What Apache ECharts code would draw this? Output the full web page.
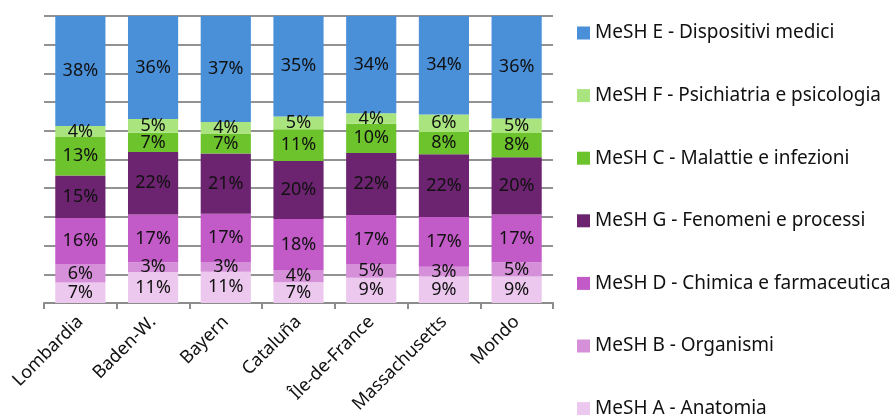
<!DOCTYPE html>
<html>
<head>
<meta charset="utf-8">
<script src="https://cdn.jsdelivr.net/npm/echarts@6/dist/echarts.min.js"></script>
<style>html,body{margin:0;padding:0;background:#fff}#c{width:890px;height:416px}</style>
</head>
<body>
<div id="c"></div>
<script>
const categories = ['Lombardia', 'Baden-W.', 'Bayern', 'Cataluña', 'Île-de-France', 'Massachusetts', 'Mondo'];
const meshA = [7.1, 10.8, 10.9, 7.2, 8.8, 9.2, 9.2];
const meshB = [6.3, 3.4, 3.4, 4.3, 4.6, 3.4, 5.0];
const meshD = [16.2, 16.6, 16.8, 17.8, 17.3, 17.4, 16.6];
const meshG = [14.8, 21.8, 21.0, 20.2, 21.6, 21.8, 20.0];
const meshC = [13.4, 6.7, 7.0, 11.0, 10.2, 7.8, 8.4];
const meshF = [3.9, 4.8, 4.0, 4.5, 3.6, 6.1, 5.1];
const meshE = [38.3, 35.9, 36.9, 35.0, 33.9, 34.3, 35.7];
const yTicks = [0, 10, 20, 30, 40, 50, 60, 70, 80, 90, 100];

const seriesDefs = [
  { name: 'MeSH A - Anatomia', data: meshA, color: '#ECC8EE' },
  { name: 'MeSH B - Organismi', data: meshB, color: '#D690D9' },
  { name: 'MeSH D - Chimica e farmaceutica', data: meshD, color: '#C25AC8' },
  { name: 'MeSH G - Fenomeni e processi', data: meshG, color: '#6C2370' },
  { name: 'MeSH C - Malattie e infezioni', data: meshC, color: '#6DC32C' },
  { name: 'MeSH F - Psichiatria e psicologia', data: meshF, color: '#A9E47E' },
  { name: 'MeSH E - Dispositivi medici', data: meshE, color: '#4A90D9' }
];

const FONT = 'Noto Sans';
const chart = echarts.init(document.getElementById('c'));
chart.setOption({
  animation: false,
  textStyle: { fontFamily: FONT },
  grid: { left: 44, right: 337, top: 16, bottom: 113, containLabel: false },
  legend: {
    orient: 'vertical',
    left: 577,
    top: 23,
    padding: 0,
    height: 600,
    itemWidth: 13,
    itemHeight: 13,
    itemGap: 42.6,
    icon: 'rect',
    data: seriesDefs.map(s => s.name).reverse(),
    textStyle: { fontFamily: FONT, fontSize: 19, color: '#111', lineHeight: 20 }
  },
  xAxis: {
    type: 'category',
    data: categories,
    axisLine: { lineStyle: { color: '#8c8c8c', width: 2 } },
    axisTick: { show: true, length: 6, lineStyle: { color: '#8c8c8c', width: 2 } },
    axisLabel: { rotate: 45, fontFamily: FONT, fontSize: 18, color: '#111', margin: 16, interval: 0 }
  },
  yAxis: {
    type: 'value',
    min: yTicks[0],
    max: yTicks[yTicks.length - 1],
    interval: yTicks[1] - yTicks[0],
    axisLabel: { show: false },
    axisLine: { show: false },
    axisTick: { show: false },
    splitLine: { lineStyle: { color: '#929292', width: 2 } }
  },
  series: seriesDefs.map(s => ({
    name: s.name,
    type: 'bar',
    stack: 'total',
    barWidth: '69%',
    data: s.data,
    itemStyle: { color: s.color },
    label: {
      show: true,
      position: 'inside',
      fontFamily: FONT,
      fontSize: 18,
      color: '#111',
      formatter: p => Math.round(p.value) + '%'
    }
  }))
});
</script>
</body>
</html>
